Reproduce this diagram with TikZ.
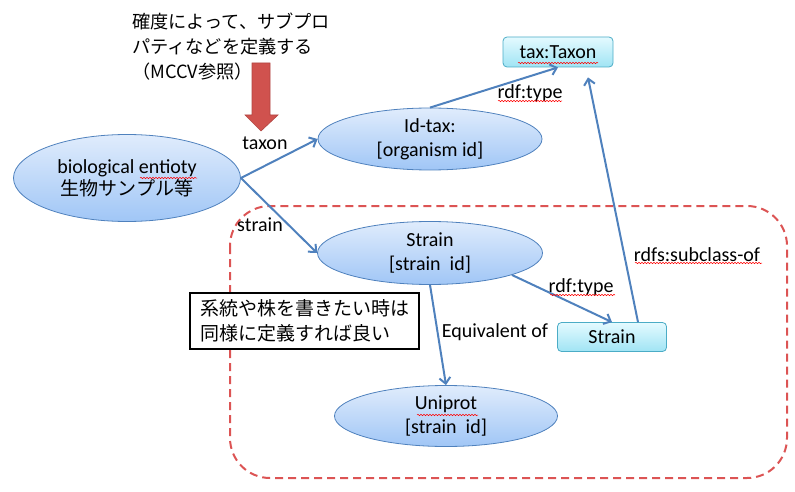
\documentclass[tikz,border=0pt]{standalone}
\usepackage{fontspec}
\setmainfont{Carlito}
\newfontfamily\jp{Noto Sans CJK JP}
\usetikzlibrary{shapes.geometric,arrows.meta,decorations.pathmorphing}

\definecolor{linkblue}{RGB}{79,129,189}
\definecolor{ovaltop}{RGB}{224,236,252}
\definecolor{ovalbot}{RGB}{160,198,246}
\definecolor{boxedge}{RGB}{75,172,198}
\definecolor{boxtop}{RGB}{228,250,255}
\definecolor{boxbot}{RGB}{160,228,244}
\definecolor{groupred}{RGB}{220,84,84}
\definecolor{arrowred}{RGB}{208,82,78}

\tikzset{
  entity/.style={ellipse, draw=linkblue, line width=0.8pt, top color=ovaltop, bottom color=ovalbot,
    minimum width=224pt, minimum height=62pt, inner sep=0pt, align=center,
    font=\fontsize{20}{24}\selectfont},
  classbox/.style={rectangle, rounded corners=4pt, draw=boxedge, line width=0.8pt,
    top color=boxtop, bottom color=boxbot, minimum width=110pt, minimum height=30pt,
    inner sep=0pt, font=\fontsize{20}{24}\selectfont},
  link/.style={draw=linkblue, line width=2pt, -{Straight Barb[length=6pt,width=11pt]}},
  lbl/.style={inner sep=0pt, font=\fontsize{20}{24}\selectfont},
  spell/.style={red, line width=0.5pt, decorate,
    decoration={snake, segment length=3pt, amplitude=0.7pt}},
}

\begin{document}
\begin{tikzpicture}[x=1pt,y=-1pt]
\useasboundingbox (0,0) rectangle (795,492);

% group of strain definitions
\draw[groupred, line width=2pt, dash pattern=on 8pt off 5pt, rounded corners=40pt]
  (230,206) rectangle (787,478);

% note and big arrow at the top
\node[anchor=west, align=left, inner sep=0pt, font=\jp\fontsize{18.2}{25}\selectfont] (note) at (132,47)
  {確度によって、サブプロ\\パティなどを定義する\\（MCCV参照）};
\draw[arrowred!85!black, fill=arrowred, line width=0.6pt]
  (252,63) -- (270,63) -- (270,115) -- (278,115) -- (261,131) -- (245,115) -- (252,115) -- cycle;

% nodes
\node[entity, minimum width=227pt, minimum height=87pt] (bio) at (127,178)
  {biological entioty\\[-2pt]{\jp\fontsize{19}{24}\selectfont 生物サンプル等}};
\node[entity] (idtax) at (430,139) {Id-tax:\\{}[organism id]};
\node[entity, minimum width=225pt, minimum height=63pt] (strain) at (430,253) {Strain\\{}[strain\ \ id]};
\node[entity, minimum width=223pt, minimum height=61pt] (uniprot) at (446,416) {Uniprot\\{}[strain\ \ id]};
\node[classbox] (taxon) at (558,52) {tax:Taxon};
\node[classbox, minimum width=109pt, minimum height=29pt] (srect) at (612,337) {Strain};

\node[draw, line width=2pt, fill=white, minimum width=229pt, minimum height=56pt, align=left,
  font=\jp\fontsize{19}{25}\selectfont] (memo) at (304.5,321)
  {系統や株を書きたい時は\\同様に定義すれば良い};

% connectors
\draw[link] (bio.east) -- (idtax.west);
\draw[link] (bio.east) -- (strain.west);
\draw[link] (idtax.north) -- (taxon.south);
\draw[link] (strain.-15) -- (srect.north);
\draw[link] ([xshift=26pt]srect.north) -- ([xshift=30pt,yshift=-10pt]taxon.south);
\draw[link] (strain.south) -- (uniprot.north);

% labels
\node[lbl] (ltaxon) at (265,143) {taxon};
\node[lbl] (lstrain) at (260,225) {strain};
\node[lbl] (ltype1) at (530,93) {rdf:type};
\node[lbl] (ltype2) at (581,287) {rdf:type};
\node[lbl] (lsub) at (697,255) {rdfs:subclass-of};
\node[lbl] (lequiv) at (495,332) {Equivalent of};

% spell checker marks
\draw[spell] (140,178) -- (197,178);
\draw[spell] (518,63) -- (598,63);
\draw[spell] (498,101) -- (562,101);
\draw[spell] (550,295) -- (615,295);
\draw[spell] (635,263) -- (762,263);
\draw[spell] (417,415) -- (478,415);
\end{tikzpicture}
\end{document}
